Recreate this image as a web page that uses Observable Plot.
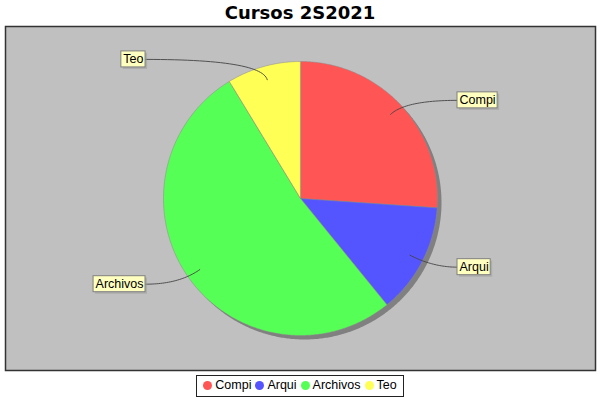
<!DOCTYPE html>
<html>
<head>
<meta charset="utf-8">
<script src="https://cdn.jsdelivr.net/npm/d3@7"></script>
<script src="https://cdn.jsdelivr.net/npm/@observablehq/plot@0.6"></script>
<style>
  html, body { margin: 0; padding: 0; background: #fff; }
  #wrap { position: relative; width: 600px; height: 400px; background: #fff; overflow: hidden; }
  #title { position: absolute; top: 0; left: 0; width: 600px; text-align: center;
           font: bold 18px "DejaVu Sans", sans-serif; line-height: 25px; color: #000; }
  #chart { position: absolute; top: 24px; left: 4px; }
  #legend { position: absolute; top: 375px; left: 0; width: 600px; text-align: center; }
  #legend .box { display: inline-block; border: 1px solid #222; padding: 2px 4px 3px 4px;
                 font: 12.5px "Liberation Sans", sans-serif; color: #000; line-height: 15px; }
  #legend .item { display: inline-block; margin: 0 2px; }
  #legend .sw { display: inline-block; width: 9px; height: 9px; border-radius: 50%;
                vertical-align: -1px; margin-right: 3px; }
</style>
</head>
<body>
<div id="wrap">
  <div id="title"></div>
  <div id="chart"></div>
  <div id="legend"></div>
</div>
<script>
const titleText = "Cursos 2S2021";
const categories = ["Compi", "Arqui", "Archivos", "Teo"];
const values = [6, 3, 12, 2];
const colors = ["#ff5555", "#5555ff", "#55ff55", "#ffff55"];

document.getElementById("title").textContent = titleText;

const R = 137;
const total = d3.sum(values);
let cum = 0;
const slices = categories.map((c, i) => {
  const a0 = cum / total * 2 * Math.PI;
  cum += values[i];
  const a1 = cum / total * 2 * Math.PI;
  return {name: c, value: values[i], color: colors[i], a0, a1, mid: (a0 + a1) / 2};
});

function arcPts(a0, a1, r) {
  const n = Math.max(2, Math.ceil((a1 - a0) / 0.01));
  const pts = [];
  for (let k = 0; k <= n; k++) {
    const t = a0 + (a1 - a0) * k / n;
    pts.push([r * Math.sin(t), r * Math.cos(t)]);
  }
  return pts;
}

const shadowPts = arcPts(0, 2 * Math.PI, R);

const labelRows = slices.map(s => {
  const right = Math.sin(s.mid) > 0;
  const ly = 146 * Math.cos(s.mid) - 1.5;
  const edge = right ? 157 : -155;
  const ax = 0.9 * R * Math.sin(s.mid), ay = 0.9 * R * Math.cos(s.mid);
  const tt = ly / Math.cos(s.mid);
  const cx = tt * Math.sin(s.mid), cy = ly;
  const link = [];
  for (let k = 0; k <= 30; k++) {
    const t = k / 30;
    link.push({
      name: s.name,
      x: (1 - t) * (1 - t) * ax + 2 * (1 - t) * t * cx + t * t * edge,
      y: (1 - t) * (1 - t) * ay + 2 * (1 - t) * t * cy + t * t * ly
    });
  }
  return {name: s.name, right, x: right ? edge + 2 : edge - 2, y: ly, link};
});

const marks = [
  Plot.frame({fill: "#c0c0c0", stroke: "#333", strokeWidth: 1.5}),
  Plot.line(shadowPts, {x: d => d[0] + 4, y: d => d[1] - 4, fill: "#808080", stroke: "none"})
];
for (const s of slices) {
  const pts = [[0, 0], ...arcPts(s.a0, s.a1, R), [0, 0]];
  marks.push(Plot.line(pts, {x: d => d[0], y: d => d[1], fill: s.color, stroke: "#8a8a8a", strokeWidth: 0.5}));
}
for (const l of labelRows) {
  marks.push(Plot.line(l.link, {x: "x", y: "y", stroke: "#444", strokeWidth: 0.9}));
}
marks.push(Plot.text(labelRows.filter(d => d.right), {
  x: "x", y: "y", text: "name", textAnchor: "start",
  fontSize: 12.5, fontFamily: "Liberation Sans", fill: "#000"
}));
marks.push(Plot.text(labelRows.filter(d => !d.right), {
  x: "x", y: "y", text: "name", textAnchor: "end",
  fontSize: 12.5, fontFamily: "Liberation Sans", fill: "#000"
}));

const svg = Plot.plot({
  width: 592, height: 348,
  marginTop: 2, marginBottom: 2, marginLeft: 1, marginRight: 1,
  x: {domain: [-295, 295], axis: null},
  y: {domain: [-172, 172], axis: null},
  style: {background: "transparent", overflow: "visible"},
  marks
});
document.getElementById("chart").appendChild(svg);

// label boxes behind the label texts
const ns = "http://www.w3.org/2000/svg";
svg.querySelectorAll('g[aria-label="text"]').forEach(textGroup => {
  const boxG = document.createElementNS(ns, "g");
  textGroup.parentNode.insertBefore(boxG, textGroup);
  textGroup.querySelectorAll("text").forEach(t => {
    const b = t.getBBox();
    const cy = b.y + b.height / 2;
    const x0 = b.x - 2, w = b.width + 4, y0 = cy - 8, h = 16;
    const tr = t.getAttribute("transform");
    const sh = document.createElementNS(ns, "rect");
    sh.setAttribute("x", x0 + 2); sh.setAttribute("y", y0 + 2);
    sh.setAttribute("width", w); sh.setAttribute("height", h);
    sh.setAttribute("fill", "rgba(151,151,151,0.5)");
    if (tr) sh.setAttribute("transform", tr);
    boxG.appendChild(sh);
    const r = document.createElementNS(ns, "rect");
    r.setAttribute("x", x0); r.setAttribute("y", y0);
    r.setAttribute("width", w); r.setAttribute("height", h);
    r.setAttribute("fill", "#ffffc0"); r.setAttribute("stroke", "#808080"); r.setAttribute("stroke-width", 1);
    if (tr) r.setAttribute("transform", tr);
    boxG.appendChild(r);
  });
});

// legend
const lg = document.getElementById("legend");
const box = document.createElement("div");
box.className = "box";
categories.forEach((c, i) => {
  const it = document.createElement("span");
  it.className = "item";
  const sw = document.createElement("span");
  sw.className = "sw";
  sw.style.background = colors[i];
  it.appendChild(sw);
  it.appendChild(document.createTextNode(c));
  box.appendChild(it);
});
lg.appendChild(box);
</script>
</body>
</html>
